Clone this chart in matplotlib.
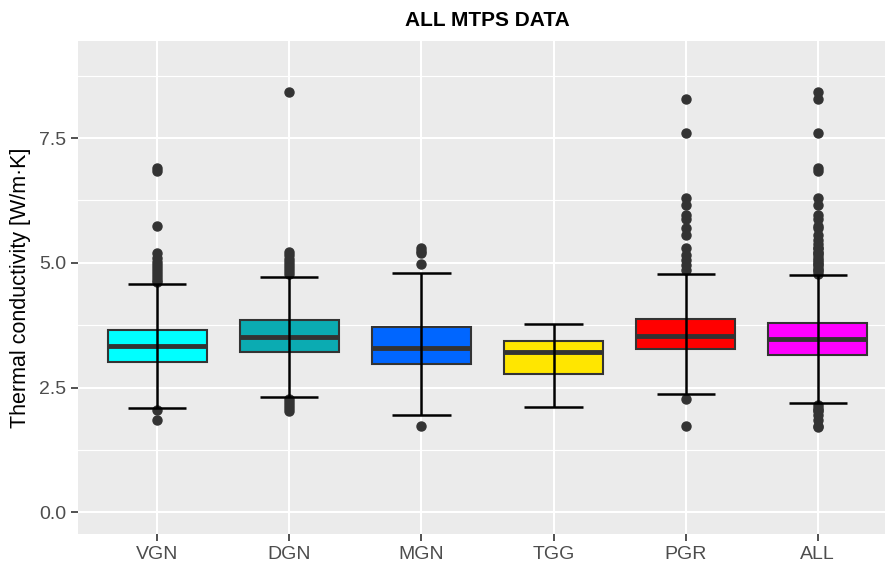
import matplotlib
matplotlib.use("Agg")
import matplotlib.pyplot as plt
from matplotlib.ticker import MultipleLocator

plt.rcParams.update({
    "font.family": ["Liberation Sans", "DejaVu Sans"],
    "font.size": 13,
})

# data
groups = ["VGN", "DGN", "MGN", "TGG", "PGR", "ALL"]
colors = ["#00FFFF", "#0BABB2", "#0066FF", "#FFE600", "#FF0000", "#FF00FF"]
q1 = [3.02, 3.21, 2.97, 2.77, 3.27, 3.15]
med = [3.33, 3.52, 3.30, 3.21, 3.54, 3.47]
q3 = [3.65, 3.85, 3.72, 3.43, 3.87, 3.79]
whislo = [2.09, 2.31, 1.94, 2.12, 2.37, 2.20]
whishi = [4.58, 4.72, 4.80, 3.78, 4.78, 4.76]
fliers = [
    [6.89, 6.83, 5.73, 5.20, 5.09, 5.02, 4.96, 4.90, 4.84, 4.78, 4.72, 4.66, 4.61, 2.06, 1.85],
    [8.42, 5.22, 5.15, 5.08, 5.02, 4.96, 4.90, 4.84, 4.78, 2.28, 2.22, 2.15, 2.09, 2.03],
    [5.29, 5.24, 5.19, 4.98, 1.72],
    [],
    [8.29, 7.60, 6.29, 6.15, 5.96, 5.87, 5.69, 5.56, 5.30, 5.16, 5.06, 4.96, 4.86, 2.28, 1.72],
    [8.42, 8.28, 7.60, 6.89, 6.83, 6.29, 6.15, 5.96, 5.87, 5.73, 5.69, 5.56,
     5.46, 5.38, 5.30, 5.29, 5.22, 5.20, 5.16, 5.09, 5.06, 5.02, 4.98, 4.96,
     4.90, 4.86, 4.84, 4.78, 2.15, 2.09, 2.06, 2.03, 1.94, 1.85, 1.72, 1.70],
]

stats = []
for i, g in enumerate(groups):
    stats.append(dict(label=g, q1=q1[i], med=med[i], q3=q3[i],
                      whislo=whislo[i], whishi=whishi[i], fliers=fliers[i]))

fig = plt.figure(figsize=(8.85, 5.67), dpi=100)
ax = fig.add_axes([78 / 885, 33 / 567, (897 - 78) / 885, (534 - 41) / 567])
ax.set_facecolor("#EBEBEB")
for s in ax.spines.values():
    s.set_visible(False)

pos = list(range(1, len(groups) + 1))
bp = ax.bxp(stats, positions=pos, widths=0.75, patch_artist=True,
            showcaps=False,
            boxprops=dict(edgecolor="#333333", linewidth=1.5),
            medianprops=dict(color="#333333", linewidth=3.5),
            whiskerprops=dict(color="black", linewidth=0),
            flierprops=dict(marker="o", markerfacecolor="#333333",
                            markeredgecolor="#333333", markersize=6.5),
            zorder=2)
for patch, c in zip(bp["boxes"], colors):
    patch.set_facecolor(c)

# errorbar-style whiskers drawn across the box
ax.vlines(pos, whislo, whishi, color="black", linewidth=1.8, zorder=4)
ax.hlines(whislo, [p - 0.22 for p in pos], [p + 0.22 for p in pos],
          color="black", linewidth=1.8, zorder=4)
ax.hlines(whishi, [p - 0.22 for p in pos], [p + 0.22 for p in pos],
          color="black", linewidth=1.8, zorder=4)

ax.set_xlim(0.4, 6.6)
ax.set_ylim(-0.435, 9.445)
ax.yaxis.set_major_locator(MultipleLocator(2.5))
ax.yaxis.set_minor_locator(MultipleLocator(1.25))
ax.set_yticks([0, 2.5, 5.0, 7.5])
ax.set_yticklabels(["0.0", "2.5", "5.0", "7.5"])
ax.set_xticks(pos)
ax.set_xticklabels(groups)
ax.grid(True, which="major", color="white", linewidth=1.5, zorder=0)
ax.grid(True, which="minor", axis="y", color="white", linewidth=0.8, zorder=0)
ax.set_axisbelow(True)
ax.tick_params(axis="both", which="major", colors="#333333", length=5,
               width=1.2, labelcolor="#4D4D4D", labelsize=14)
ax.tick_params(axis="y", which="minor", length=0)

ax.set_ylabel("Thermal conductivity [W/m·K]", fontsize=15.5, color="black",
              labelpad=6)
ax.set_title("ALL MTPS DATA", fontsize=15, fontweight="bold", pad=11)

fig.savefig("out.png", dpi=100)
